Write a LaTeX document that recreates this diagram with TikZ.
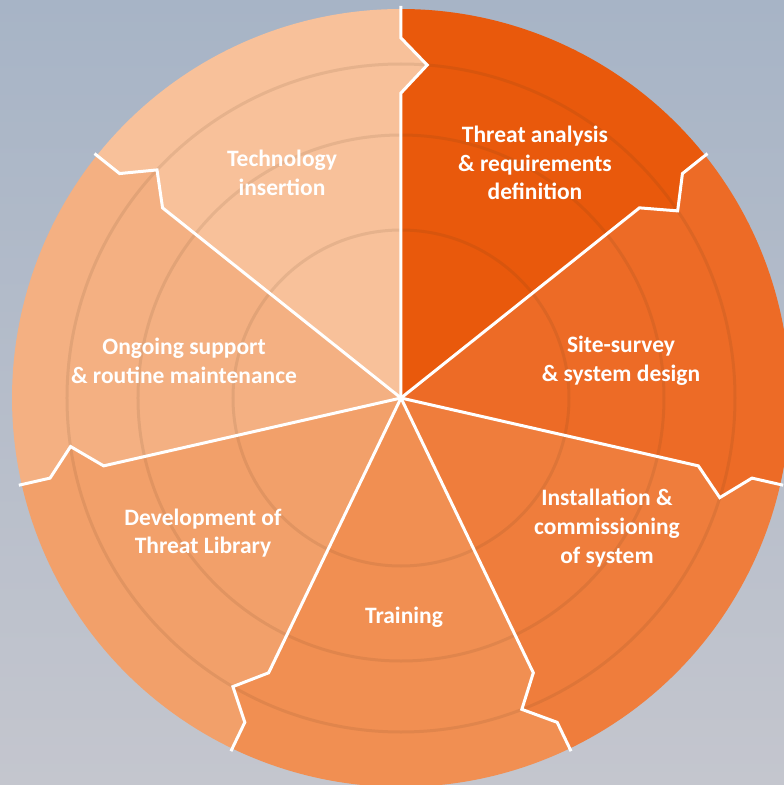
\documentclass[tikz,border=0pt]{standalone}
\usepackage{fontspec}
\setmainfont{Carlito}
\begin{document}
\begin{tikzpicture}[x=1pt,y=1pt,
  lbl/.style={text=white,font=\fontsize{23.5}{28.8}\selectfont\bfseries,align=center,inner sep=0pt},
  ring/.style={draw=black!60!brown,draw opacity=0.10,line width=3pt},
  seam/.style={draw=white,line width=3pt,line join=miter}]
\def\R{389}
\def\A{305}\def\B{334}\def\C{360}\def\D{4.5}
\useasboundingbox (-401,-387) rectangle (383,398);
\clip (-401,-387) rectangle (383,398);
\shade[top color={rgb,255:red,167;green,180;blue,198},bottom color={rgb,255:red,196;green,198;blue,206}] (-401,-387) rectangle (383,398);
\coordinate (O) at (0,0);
% sector colours
\definecolor{s1}{RGB}{233,89,12}
\definecolor{s2}{RGB}{237,107,38}
\definecolor{s3}{RGB}{239,125,60}
\definecolor{s4}{RGB}{241,143,82}
\definecolor{s5}{RGB}{242,160,106}
\definecolor{s6}{RGB}{244,176,130}
\definecolor{s7}{RGB}{248,193,154}
\foreach \i/\c in {0/s1,1/s2,2/s3,3/s4,4/s5,5/s6,6/s7}{
  \pgfmathsetmacro{\ta}{90-\i*360/7}
  \pgfmathsetmacro{\tb}{90-(\i+1)*360/7}
  \fill[\c] (O) -- (\ta:\A) -- ({\ta-\D}:\B) -- (\ta:\C) -- (\ta:\R)
     arc[start angle=\ta,end angle=\tb,radius=\R]
     -- (\tb:\C) -- ({\tb-\D}:\B) -- (\tb:\A) -- cycle;
}
\foreach \r in {168,263,334}{\draw[ring] (O) circle[radius=\r];}
\foreach \i in {0,...,6}{
  \pgfmathsetmacro{\ta}{90-\i*360/7}
  \draw[seam] (O) -- (\ta:\A) -- ({\ta-\D}:\B) -- (\ta:\C) -- (\ta:\R+3);
}
\node[lbl] (t1) at (134,398-163) {Threat analysis\\\& requirements\\definition};
\node[lbl] (t2) at (220,398-361) {Site-survey\\\& system design};
\node[lbl] (t3) at (206,398-528) {Installation \&\\commissioning\\of system};
\node[lbl] (t4) at (3,398-617) {Training};
\node[lbl] (t5) at (-198,398-533) {Development of\\Threat Library};
\node[lbl] (t6) at (-217,398-361) {Ongoing support\\\& routine maintenance};
\node[lbl] (t7) at (-119,398-173) {Technology\\insertion};
\end{tikzpicture}
\end{document}
